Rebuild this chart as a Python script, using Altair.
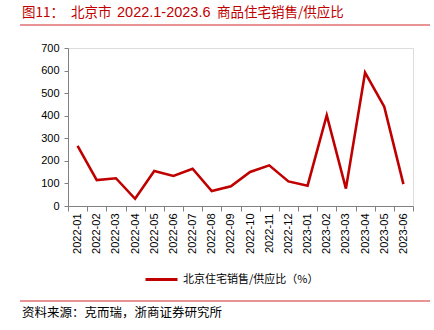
import altair as alt
import pandas as pd

months = ["2022-01", "2022-02", "2022-03", "2022-04", "2022-05", "2022-06",
          "2022-07", "2022-08", "2022-09", "2022-10", "2022-11", "2022-12",
          "2023-01", "2023-02", "2023-03", "2023-04", "2023-05", "2023-06"]
ratio = [266, 115, 123, 32, 155, 133, 165, 66, 87, 151, 180, 109,
         90, 402, 77, 591, 440, 97]
series_name = "北京住宅销售/供应比（%）"
y_ticks = [0, 100, 200, 300, 400, 500, 600, 700]
title_parts = ["图11：", "北京市", "2022.1-2023.6", "商品住宅销售/供应比"]
source_text = "资料来源：克而瑞，浙商证券研究所"

df = pd.DataFrame({"month": months, "ratio": ratio, "series": series_name})

RED = "#C00000"
CJK = "Noto Sans CJK SC"
LAT = "Liberation Sans"

line = alt.Chart(df).mark_line(strokeWidth=2.6, color=RED).encode(
    x=alt.X("month:O", sort=months,
            scale=alt.Scale(paddingInner=0, paddingOuter=0),
            axis=alt.Axis(title=None, labelAngle=270, tickBand="extent",
                          labelFont=LAT, labelFontSize=11, labelColor="#000",
                          domainColor="#808080", tickColor="#808080",
                          tickSize=5, labelPadding=2)),
    y=alt.Y("ratio:Q", scale=alt.Scale(domain=[0, 700], nice=False),
            axis=alt.Axis(title=None, values=y_ticks, grid=False,
                          labelFont=LAT, labelFontSize=11, labelColor="#000",
                          domainColor="#808080", tickColor="#808080",
                          tickSize=4, labelPadding=5)),
    color=alt.Color("series:N", scale=alt.Scale(range=[RED]),
                    legend=alt.Legend(title=None, orient="none",
                                      legendX=76, legendY=214,
                                      symbolType="stroke", symbolSize=1024,
                                      symbolStrokeWidth=3, labelFont=CJK,
                                      labelFontSize=11, labelColor="#000",
                                      labelOffset=4, padding=0)),
)


def txt(s, x, y, font, size, color):
    d = pd.DataFrame({"t": [s]})
    return alt.Chart(d).mark_text(
        align="left", baseline="middle", font=font, fontSize=size, color=color
    ).encode(x=alt.value(x), y=alt.value(y), text="t:N")


t1 = txt(title_parts[0], -46, -35, CJK, 13.5, RED)
t2 = txt(title_parts[1], 3, -35, CJK, 13.5, RED)
t3 = txt(title_parts[2], 49, -35, LAT, 14.5, RED)
t4 = txt(title_parts[3], 149, -35, CJK, 13.5, RED)
source = txt(source_text, -46, 265, CJK, 12.5, "#000")

deco_df = pd.DataFrame({"t": [0]})
rule_top = alt.Chart(deco_df).mark_rule(color="#E07070", strokeWidth=1.5).encode(
    x=alt.value(-48), x2=alt.value(362), y=alt.value(-23))
rule_bot = alt.Chart(deco_df).mark_rule(color="#E07070", strokeWidth=1.5).encode(
    x=alt.value(-48), x2=alt.value(362), y=alt.value(253))

chart = alt.layer(line, t1, t2, t3, t4, source, rule_top, rule_bot).properties(
    width=345, height=158,
    autosize=alt.AutoSizeParams(type="none"),
    padding={"left": 68, "top": 48, "right": 21, "bottom": 124},
).configure_view(stroke=None).configure(background="white")

chart.save("out.html", embed_options={"renderer": "svg", "actions": False})
